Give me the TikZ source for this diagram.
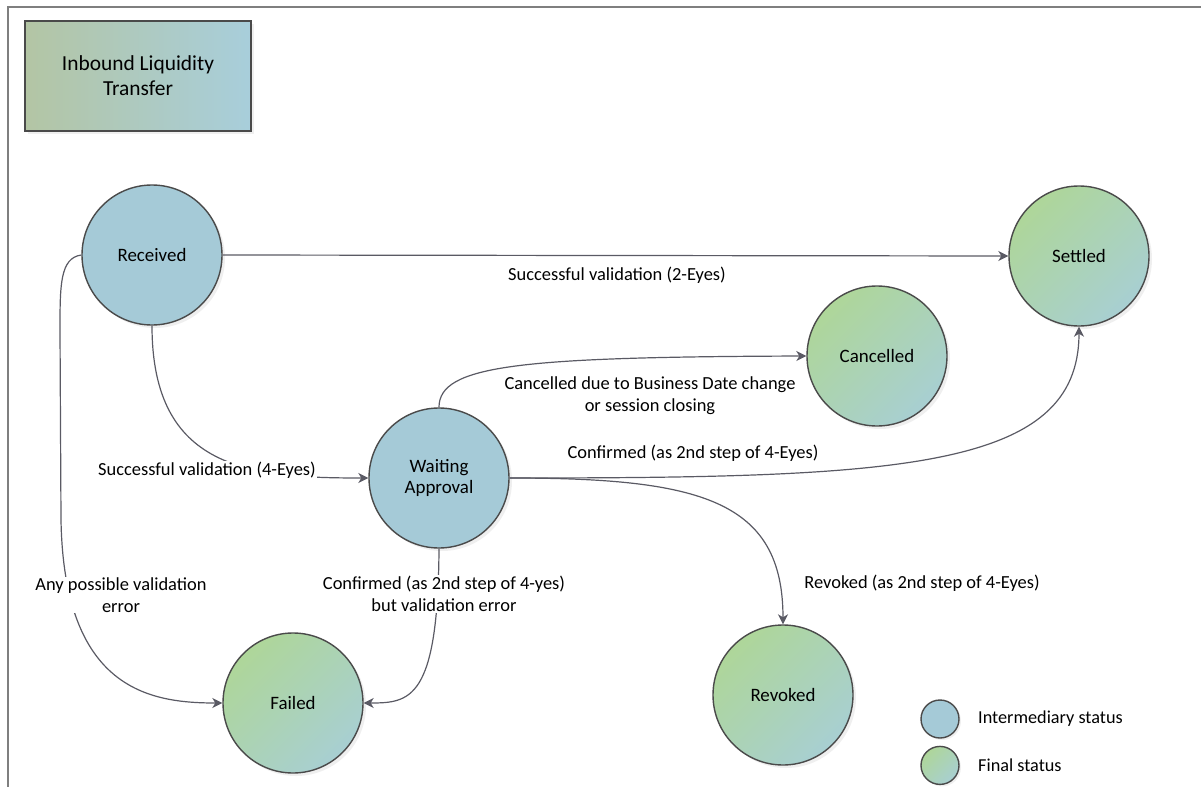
\documentclass[tikz,border=0pt]{standalone}
\usepackage{fontspec}
\setmainfont{Carlito}
\usetikzlibrary{arrows.meta,positioning,shadows}
\definecolor{linegry}{HTML}{5A5A64}
\definecolor{bordgry}{HTML}{4A4A4A}
\definecolor{framegry}{HTML}{7F7F7F}
\definecolor{intblue}{HTML}{A5CAD7}
\definecolor{fingrnA}{HTML}{AED699}
\definecolor{fingrnB}{HTML}{A8CFD2}
\definecolor{ttlgrn}{HTML}{B3C5A4}
\definecolor{ttlblue}{HTML}{A8CEDB}

\tikzset{
  status/.style={circle, draw=bordgry, line width=1.4bp, minimum size=140bp, inner sep=0pt, align=center,
    font=\fontsize{19}{22}\selectfont, drop shadow={shadow xshift=3bp, shadow yshift=-3bp, fill=black!12}},
  interm/.style={status, fill=intblue},
  final/.style={status, top color=fingrnA, bottom color=fingrnB, shading angle=45},
  legdot/.style={circle, draw=bordgry, line width=1.4bp, minimum size=38bp, inner sep=0pt,
    drop shadow={shadow xshift=2bp, shadow yshift=-2bp, fill=black!12}},
  trans/.style={line width=1.2bp, draw=linegry, -{Stealth[length=10bp,width=10bp,inset=3bp]}},
  lbl/.style={fill=white, inner sep=1bp, align=center, font=\fontsize{18.5}{22}\selectfont},
}

\begin{document}
\begin{tikzpicture}[x=1bp, y=-1bp]
	\useasboundingbox (0,0) rectangle (1201,787);
	\draw[framegry, line width=2bp] (8,787) -- (8,7) -- (1201,7);
	
	\node[draw=bordgry, line width=1.4bp, minimum width=226bp, minimum height=110bp, left color=ttlgrn, right color=ttlblue,
		align=center, font=\fontsize{21.5}{25}\selectfont, drop shadow={shadow xshift=3bp, shadow yshift=-3bp, fill=black!12}]
		(ttl) at (138,76) {Inbound Liquidity\\Transfer};
	
	\node[interm] (rec) at (152,255) {Received};
	\node[interm] (wai) at (439,478) {Waiting\\Approval};
	\node[final] (set) at (1079,256) {Settled};
	\node[final] (can) at (877,356) {Cancelled};
	\node[final] (fai) at (293,703) {Failed};
	\node[final] (rev) at (783,695) {Revoked};
	
	\node[legdot, fill=intblue] (legI) at (940,719) {};
	\node[legdot, top color=fingrnA, bottom color=fingrnB, shading angle=45, below=7bp of legI] (legF) {};
	\node[right=15bp of legI, font=\fontsize{18.3}{22}\selectfont] (legIc) {Intermediary status};
	\node[right=15bp of legF, font=\fontsize{18.3}{22}\selectfont] (legFc) {Final status};
	
	\draw[trans] (rec.east) -- (set.west); % 2-Eyes
	\draw[trans] (rec.south) .. controls (152,470) and (250,478) .. (wai.west); % 4-Eyes
	\draw[trans] (rec.west) .. controls (60,258) and (60,285) .. (60,330) -- (61,520) .. controls (64,690) and (150,703) .. (fai.west); % Error
	\draw[trans] (wai.north) .. controls (439,365) and (520,357) .. (can.west); % Cancel
	\draw[trans] (wai.east) .. controls (900,478) and (1079,470) .. (set.south); % Confirm
	\draw[trans] (wai.east) .. controls (700,478) and (783,500) .. (rev.north); % Revoke
	\draw[trans] (wai.south) .. controls (438,700) and (410,703) .. (fai.east); % Error
	
	\node[lbl] (l2eyes) at (617,275) {Successful validation (2-Eyes)};
	\node[lbl] (l4eyes) at (207,470) {Successful validation (4-Eyes)};
	\node[lbl] (lcanc) at (650,396) {Cancelled due to Business Date change\\or session closing};
	\node[lbl] (lconf) at (693,453) {Confirmed (as 2nd step of 4-Eyes)};
	\node[lbl] (lrevk) at (922,583) {Revoked (as 2nd step of 4-Eyes)};
	\node[lbl] (lany) at (121,595) {Any possible validation\\error};
	\node[lbl] (lconff) at (444,594) {Confirmed (as 2nd step of 4-yes)\\but validation error};
	
\end{tikzpicture}
\end{document}
